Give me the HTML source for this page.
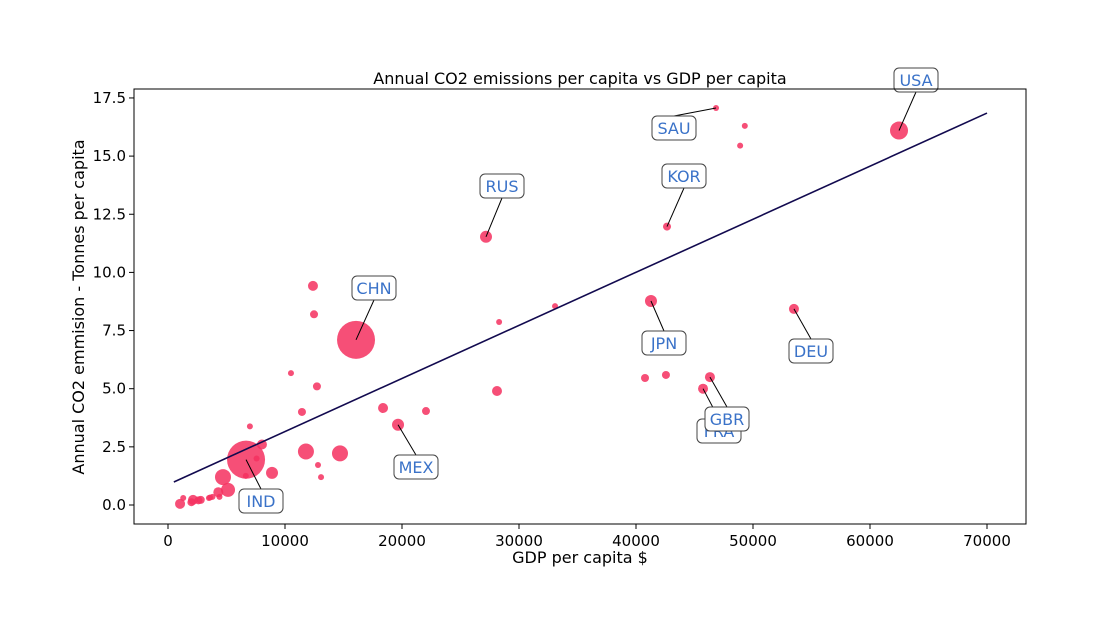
<!DOCTYPE html>
<html><head><meta charset="utf-8"><style>
body{margin:0;background:#fff;font-family:"Liberation Sans","DejaVu Sans",sans-serif}
svg text{font-family:"DejaVu Sans","Liberation Sans",sans-serif}
</style></head><body>
<svg id="chart" width="1098" height="637" viewBox="0 0 1098 637" xmlns="http://www.w3.org/2000/svg">
<rect width="1098" height="637" fill="#fff"/>
<text x="580" y="84" font-size="16" text-anchor="middle">Annual CO2 emissions per capita vs GDP per capita</text>
<text x="580" y="563" font-size="16" text-anchor="middle">GDP per capita $</text>
<text transform="translate(84,307) rotate(-90)" font-size="16" text-anchor="middle">Annual CO2 emmision - Tonnes per capita</text>
<g id="ticks"></g><g id="marks"></g><g id="annot"></g>
<rect x="134" y="89" width="892" height="435" fill="none" stroke="#000" stroke-width="1"/>
</svg>
<script>
const gdp=[62480,46840,49300,48900,42650,27180,16070,12390,12480,28300,33080,41280,53500,10510,12730,11450,28120,18380,22050,19660,40770,42560,46320,45730,11790,14700,12820,13080,7000,8030,8890,6670,7570,6650,4700,5130,4300,3800,4400,3600,1030,1300,2140,2600,2800,3500,2000];
const co2=[16.1,17.07,16.3,15.45,11.97,11.53,7.1,9.42,8.2,7.87,8.55,8.77,8.43,5.67,5.1,4.0,4.9,4.17,4.04,3.45,5.46,5.59,5.5,5.0,2.3,2.22,1.72,1.2,3.38,2.6,1.38,1.95,2.0,1.25,1.2,0.65,0.55,0.35,0.35,0.32,0.05,0.3,0.22,0.2,0.22,0.3,0.12];
const sizes=[9,3,3,3,4,6,19,5,4,3,3,6,5,3,4,4,5,5,4,6,4,4,5,5,8,8,3,3,3,5,6,19,3,3,8,7,5,3,3,3,5,3,5,4,4,3,4];
const fitX=[500,70000];
const fitY=[0.99,16.85];
const xTicks=[0,10000,20000,30000,40000,50000,60000,70000];
const yTicks=[0,2.5,5,7.5,10,12.5,15,17.5];
const labels=[["USA",62480,16.1,916,80],["SAU",46840,17.07,674,128],["KOR",42650,11.97,684,176],["RUS",27180,11.53,502,186],["CHN",16070,7.1,374,288],["JPN",41280,8.77,664,343],["DEU",53500,8.43,811,351],["MEX",19660,3.45,416,467],["IND",6670,1.95,261,501],["FRA",45730,5.0,719,431],["GBR",46320,5.5,727,419]];
const X=v=>168+v*0.0117, Y=v=>505-v*23.26;
const NS="http://www.w3.org/2000/svg";
function mk(t,a,p){const e=document.createElementNS(NS,t);for(const k in a)e.setAttribute(k,a[k]);p.appendChild(e);return e;}
const tk=document.getElementById('ticks'),mg=document.getElementById('marks'),an=document.getElementById('annot');
xTicks.forEach(v=>{mk('line',{x1:X(v),x2:X(v),y1:524,y2:529,stroke:'#000'},tk);
 const t=mk('text',{x:X(v),y:546,'font-size':15,'text-anchor':'middle'},tk);t.textContent=v;
 
 });
yTicks.forEach(v=>{mk('line',{x1:129,x2:134,y1:Y(v),y2:Y(v),stroke:'#000'},tk);
 const t=mk('text',{x:126,y:Y(v)+5,'font-size':15,'text-anchor':'end'},tk);t.textContent=v.toFixed(1);
 
 });
gdp.forEach((g,i)=>{const c=mk('circle',{cx:X(g),cy:Y(co2[i]),r:sizes[i],fill:'#f5305f','fill-opacity':0.85},mg);
 
 });
const ln=mk('line',{x1:X(fitX[0]),y1:Y(fitY[0]),x2:X(fitX[1]),y2:Y(fitY[1]),stroke:'#120a4f','stroke-width':1.6},mg);


labels.forEach(([n,gx,gy,bx,by])=>{
 const g=mk('g',{},an);
 
 
 mk('line',{x1:X(gx),y1:Y(gy),x2:bx,y2:by+(by<Y(gy)?12:-12),stroke:'#000','stroke-width':1},g);
 mk('rect',{x:bx-22,y:by-12,width:44,height:24,rx:5,fill:'#fff',stroke:'#444','stroke-width':1},g);
 const t=mk('text',{x:bx,y:by+6,'font-size':16,'text-anchor':'middle',fill:'#3a72c8'},g);t.textContent=n;});
</script>
</body></html>
